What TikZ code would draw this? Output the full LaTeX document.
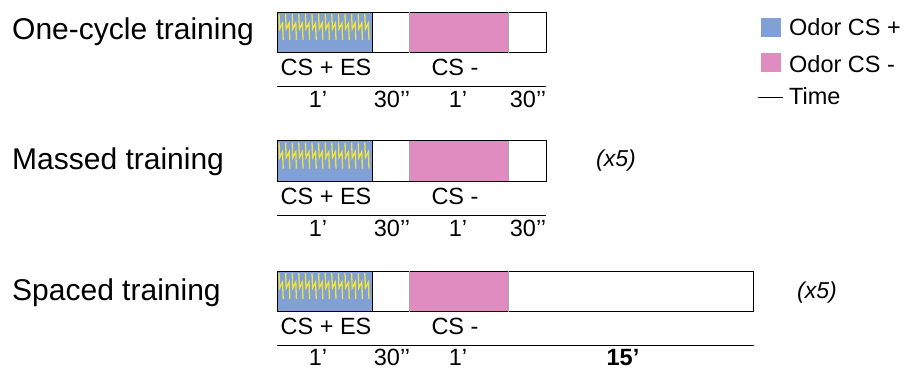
\documentclass[tikz,border=0pt]{standalone}
\usepackage{fontspec}
\setmainfont{Liberation Sans}
\definecolor{csplus}{RGB}{128,160,214}
\definecolor{csminus}{RGB}{223,140,193}
\definecolor{shock}{RGB}{240,228,60}
\tikzset{
  title/.style={anchor=base west, inner sep=0pt, font=\fontsize{30}{30}\selectfont},
  lbl/.style={anchor=base, inner sep=0pt, font=\fontsize{23.5}{24}\selectfont},
  reps/.style={anchor=center, inner sep=0pt, font=\fontsize{23}{24}\selectfont\itshape},
  seg/.style={draw=black, line width=0.8pt},
  timeline/.style={draw=black, line width=1.4pt},
}
\newcommand{\shockbolts}{%
  \begin{scope}
    \clip (277,12) rectangle (372.7,52.7);
    \foreach \i in {0,...,13}{
      \pgfmathsetmacro{\bx}{279+\i*6.6}
      \draw[shock, line width=1.3pt, line join=miter]
        (\bx,14) -- (\bx+0.6,29) -- (\bx+3.6,23) -- (\bx+4.2,40);
    }
  \end{scope}}
\begin{document}
\begin{tikzpicture}[x=1pt,y=-1pt]
\useasboundingbox (0,0) rectangle (905,369);

% ---- one-cycle training ----
\node[title] (t1) at (12,40) {One-cycle training};
\begin{scope}
  \fill[csplus] (277,12) rectangle (372.7,52.7);
  \shockbolts
  \fill[csminus] (409,12) rectangle (508.7,52.7);
  \draw[seg] (277,12) rectangle (546,52.7);
  \draw[seg] (372.7,12) -- (372.7,52.7);
  \draw[seg, draw=gray!70] (409,12) -- (409,52.7);
  \draw[seg, draw=gray!70] (508.7,12) -- (508.7,52.7);
  \node[lbl] (a1) at (326,75.5) {CS + ES};
  \node[lbl] (b1) at (455,75.5) {CS -};
  \coordinate (l1s) at (277,86.7);
  \coordinate (l1e) at (546,86.7);
  \draw[timeline] (l1s) -- (l1e);
  \node[lbl] (p1) at (318,107.5) {1’};
  \node[lbl] (q1) at (392,107.5) {30’’};
  \node[lbl] (r1) at (458,107.5) {1’};
  \node[lbl] (s1) at (528,107.5) {30’’};
\end{scope}

% ---- massed training ----
\node[title] (t2) at (12,169.5) {Massed training};
\begin{scope}[shift={(0,128.7)}]
  \fill[csplus] (277,12) rectangle (372.7,52.7);
  \shockbolts
  \fill[csminus] (409,12) rectangle (508.7,52.7);
  \draw[seg] (277,12) rectangle (546,52.7);
  \draw[seg] (372.7,12) -- (372.7,52.7);
  \draw[seg, draw=gray!70] (409,12) -- (409,52.7);
  \draw[seg, draw=gray!70] (508.7,12) -- (508.7,52.7);
  \node[lbl] (a2) at (326,75.5) {CS + ES};
  \node[lbl] (b2) at (455,75.5) {CS -};
  \coordinate (l2s) at (277,86.7);
  \coordinate (l2e) at (546,86.7);
  \draw[timeline] (l2s) -- (l2e);
  \node[lbl] (p2) at (318,107.5) {1’};
  \node[lbl] (q2) at (392,107.5) {30’’};
  \node[lbl] (r2) at (458,107.5) {1’};
  \node[lbl] (s2) at (528,107.5) {30’’};
  \node[reps] (x2) at (616,32.3) {(x5)};
\end{scope}

% ---- spaced training ----
\node[title] (t3) at (12,300) {Spaced training};
\begin{scope}[shift={(0,259)}]
  \fill[csplus] (277,12) rectangle (372.7,52.7);
  \shockbolts
  \fill[csminus] (409,12) rectangle (508.7,52.7);
  \draw[seg] (277,12) rectangle (753,52.7);
  \draw[seg] (372.7,12) -- (372.7,52.7);
  \draw[seg, draw=gray!70] (409,12) -- (409,52.7);
  \draw[seg, draw=gray!70] (508.7,12) -- (508.7,52.7);
  \node[lbl] (a3) at (326,75.5) {CS + ES};
  \node[lbl] (b3) at (455,75.5) {CS -};
  \coordinate (l3s) at (277,86.7);
  \coordinate (l3e) at (754,86.7);
  \draw[timeline] (l3s) -- (l3e);
  \node[lbl] (p3) at (318,106.5) {1’};
  \node[lbl] (q3) at (392,106.5) {30’’};
  \node[lbl] (r3) at (458,106.5) {1’};
  \node[lbl, font=\fontsize{23.5}{24}\selectfont\bfseries] (s3) at (623,106.5) {15’};
  \node[reps] (x3) at (817,34) {(x5)};
\end{scope}

% ---- legend ----
\fill[csplus] (761,18) rectangle (781,37);
\node[lbl, anchor=base west] (k1) at (789,36) {Odor CS +};
\fill[csminus] (761,53) rectangle (781,72);
\node[lbl, anchor=base west] (k2) at (789,73) {Odor CS -};
\coordinate (k3s) at (758,97);
\coordinate (k3e) at (783,97);
\draw[line width=1pt] (k3s) -- (k3e);
\node[lbl, anchor=base west] (k3) at (789,104) {Time};
\end{tikzpicture}
\end{document}
